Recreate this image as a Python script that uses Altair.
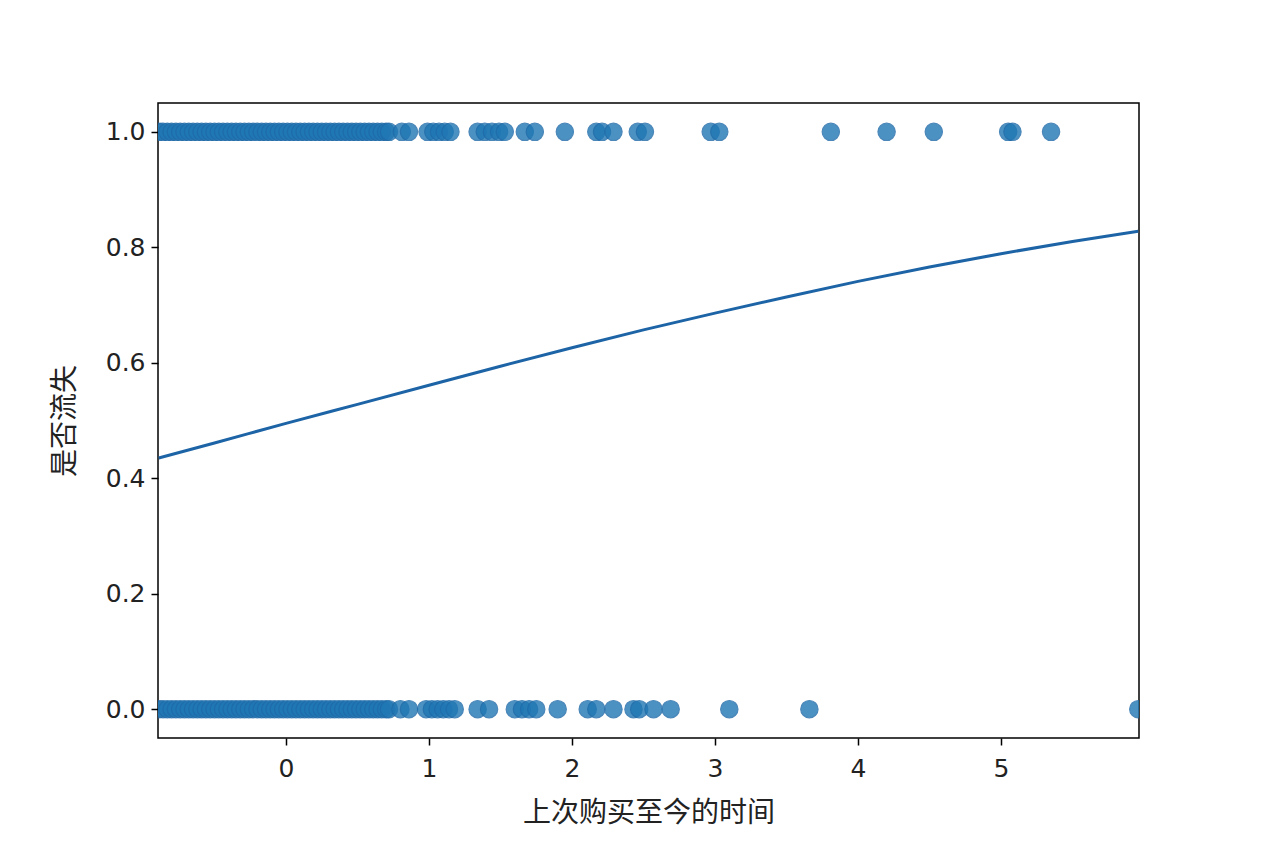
import altair as alt
import pandas as pd

# Observations with churn = 1 (top row)
x_churn1 = [
    -0.89, -0.86, -0.83, -0.80, -0.77, -0.74, -0.71, -0.68, -0.65, -0.62,
    -0.59, -0.56, -0.53, -0.50, -0.47, -0.44, -0.41, -0.38, -0.35, -0.32,
    -0.29, -0.26, -0.23, -0.20, -0.17, -0.14, -0.11, -0.08, -0.05, -0.02,
    0.01, 0.04, 0.07, 0.10, 0.13, 0.16, 0.19, 0.22, 0.25, 0.28,
    0.31, 0.34, 0.37, 0.40, 0.43, 0.46, 0.49, 0.52, 0.55, 0.58,
    0.61, 0.64, 0.67, 0.70, 0.72,
    0.81, 0.86, 0.99, 1.03, 1.07, 1.11, 1.15,
    1.34, 1.39, 1.44, 1.49, 1.53, 1.67, 1.74,
    1.95, 2.17, 2.21, 2.29, 2.46, 2.51, 2.97, 3.03,
    3.81, 4.20, 4.53, 5.05, 5.08, 5.35,
]
# Observations with churn = 0 (bottom row)
x_churn0 = [
    -0.89, -0.86, -0.83, -0.80, -0.77, -0.74, -0.71, -0.68, -0.65, -0.62,
    -0.59, -0.56, -0.53, -0.50, -0.47, -0.44, -0.41, -0.38, -0.35, -0.32,
    -0.29, -0.26, -0.23, -0.20, -0.17, -0.14, -0.11, -0.08, -0.05, -0.02,
    0.01, 0.04, 0.07, 0.10, 0.13, 0.16, 0.19, 0.22, 0.25, 0.28,
    0.31, 0.34, 0.37, 0.40, 0.43, 0.46, 0.49, 0.52, 0.55, 0.58,
    0.61, 0.64, 0.67, 0.70, 0.72,
    0.80, 0.86, 0.98, 1.02, 1.06, 1.10, 1.14, 1.18,
    1.34, 1.42, 1.60, 1.65, 1.70, 1.75, 1.90,
    2.11, 2.17, 2.29, 2.43, 2.47, 2.57, 2.69,
    3.10, 3.66, 5.96,
]

# Fitted logistic curve
curve_x = [-0.89, -0.5, 0.0, 0.5, 1.0, 1.5, 2.0, 2.5, 3.0, 3.5, 4.0, 4.5, 5.0, 5.5, 5.96]
curve_y = [0.435, 0.461, 0.495, 0.528, 0.561, 0.594, 0.626, 0.657, 0.686, 0.714, 0.741, 0.766, 0.789, 0.810, 0.828]

pts = pd.DataFrame({
    "x": x_churn1 + x_churn0,
    "y": [1.0] * len(x_churn1) + [0.0] * len(x_churn0),
})
curve = pd.DataFrame({"x": curve_x, "y": curve_y})

xscale = alt.Scale(domain=[-0.895, 5.965], nice=False, zero=False)
yscale = alt.Scale(domain=[-0.05, 1.05], nice=False, zero=False)

xaxis = alt.Axis(title="上次购买至今的时间", values=[0, 1, 2, 3, 4, 5], format="d",
                 labelPadding=11, titlePadding=18)
yaxis = alt.Axis(title="是否流失", values=[0, 0.2, 0.4, 0.6, 0.8, 1.0], format=".1f",
                 labelPadding=6, titlePadding=26)

points = alt.Chart(pts).mark_point(
    shape="circle", filled=True, size=300, color="#1f77b4", opacity=0.8,
    stroke="#1f6aa8", strokeWidth=1.2, clip=True,
).encode(
    x=alt.X("x:Q", scale=xscale, axis=xaxis),
    y=alt.Y("y:Q", scale=yscale, axis=yaxis),
)

line = alt.Chart(curve).mark_line(
    color="#1d64a6", strokeWidth=3, interpolate="monotone", clip=True,
).encode(
    x=alt.X("x:Q", scale=xscale),
    y=alt.Y("y:Q", scale=yscale),
)

chart = alt.layer(points, line).properties(
    width=981, height=635,
    padding={"left": 150, "top": 95, "right": 110, "bottom": 97},
    autosize=alt.AutoSizeParams(type="none"),
    background="white",
).configure_view(
    stroke="black", strokeWidth=1.5,
).configure_axis(
    grid=False, domain=False,
    tickColor="black", tickSize=7, tickWidth=1.5,
    labelFont="DejaVu Sans", labelFontSize=25, labelColor="#222222",
    titleFont="Noto Sans CJK SC", titleFontSize=28, titleFontWeight="normal",
    titleColor="#222222",
)

chart.save("out.html", embed_options={"renderer": "svg", "actions": False})
